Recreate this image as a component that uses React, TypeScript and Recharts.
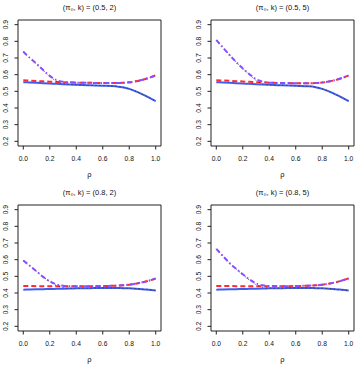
import { LineChart, Line, XAxis, YAxis, ReferenceArea } from 'recharts';

// rho grid shared by all four panels
const RHO = [0, 0.05, 0.1, 0.15, 0.2, 0.25, 0.3, 0.35, 0.4, 0.5, 0.6, 0.7, 0.75, 0.8, 0.85, 0.9, 0.95, 1.0];

const X_TICKS = [0, 0.2, 0.4, 0.6, 0.8, 1.0];
const Y_TICKS = [0.2, 0.3, 0.4, 0.5, 0.6, 0.7, 0.8, 0.9];

const TITLES = ['(π₀, k) = (0.5, 2)', '(π₀, k) = (0.5, 5)', '(π₀, k) = (0.8, 2)', '(π₀, k) = (0.8, 5)'];

// (0.5, 2)
const BLUE_A = [0.555, 0.553, 0.551, 0.549, 0.547, 0.545, 0.543, 0.541, 0.539, 0.536, 0.534, 0.530, 0.525, 0.515, 0.500, 0.482, 0.462, 0.441];
const RED_A = [0.566, 0.564, 0.562, 0.560, 0.558, 0.556, 0.554, 0.553, 0.552, 0.551, 0.550, 0.550, 0.551, 0.554, 0.560, 0.569, 0.581, 0.596];
const PURPLE_A = [0.738, 0.700, 0.665, 0.628, 0.593, 0.568, 0.557, 0.554, 0.552, 0.551, 0.550, 0.550, 0.551, 0.554, 0.560, 0.569, 0.581, 0.596];
const BLACK_A = [0.738, 0.700, 0.664, 0.626, 0.588, 0.562, 0.547, 0.541, 0.539, 0.536, 0.534, 0.530, 0.525, 0.515, 0.500, 0.482, 0.462, 0.441];

// (0.5, 5)
const BLUE_B = [0.555, 0.553, 0.551, 0.549, 0.547, 0.545, 0.543, 0.541, 0.539, 0.536, 0.533, 0.530, 0.525, 0.515, 0.500, 0.482, 0.462, 0.441];
const RED_B = [0.567, 0.565, 0.563, 0.561, 0.559, 0.557, 0.555, 0.553, 0.552, 0.550, 0.549, 0.549, 0.550, 0.553, 0.559, 0.568, 0.580, 0.595];
const PURPLE_B = [0.808, 0.763, 0.718, 0.676, 0.637, 0.603, 0.573, 0.558, 0.552, 0.550, 0.549, 0.549, 0.550, 0.553, 0.559, 0.568, 0.580, 0.595];
const BLACK_B = [0.808, 0.763, 0.718, 0.676, 0.637, 0.600, 0.566, 0.545, 0.539, 0.536, 0.533, 0.530, 0.525, 0.515, 0.500, 0.482, 0.462, 0.441];

// (0.8, 2)
const BLUE_C = [0.420, 0.421, 0.422, 0.423, 0.424, 0.425, 0.426, 0.427, 0.428, 0.429, 0.430, 0.430, 0.429, 0.428, 0.426, 0.423, 0.419, 0.415];
const RED_C = [0.442, 0.442, 0.441, 0.441, 0.441, 0.441, 0.441, 0.441, 0.441, 0.441, 0.442, 0.444, 0.446, 0.450, 0.456, 0.464, 0.474, 0.487];
const PURPLE_C = [0.595, 0.563, 0.530, 0.497, 0.470, 0.452, 0.444, 0.441, 0.441, 0.441, 0.442, 0.444, 0.446, 0.450, 0.456, 0.464, 0.474, 0.487];
const BLACK_C = [0.595, 0.563, 0.530, 0.497, 0.468, 0.445, 0.432, 0.428, 0.428, 0.429, 0.430, 0.430, 0.429, 0.428, 0.426, 0.423, 0.419, 0.415];

// (0.8, 5)
const BLUE_D = [0.420, 0.421, 0.422, 0.423, 0.424, 0.425, 0.426, 0.427, 0.428, 0.429, 0.430, 0.430, 0.429, 0.428, 0.426, 0.423, 0.419, 0.415];
const RED_D = [0.442, 0.442, 0.442, 0.441, 0.441, 0.441, 0.441, 0.441, 0.441, 0.441, 0.442, 0.444, 0.446, 0.450, 0.456, 0.464, 0.475, 0.488];
const PURPLE_D = [0.665, 0.622, 0.580, 0.545, 0.512, 0.482, 0.458, 0.446, 0.442, 0.441, 0.442, 0.444, 0.446, 0.450, 0.456, 0.464, 0.475, 0.488];
const BLACK_D = [0.665, 0.622, 0.580, 0.545, 0.510, 0.478, 0.450, 0.435, 0.429, 0.429, 0.430, 0.430, 0.429, 0.428, 0.426, 0.423, 0.419, 0.415];

const SERIES = [
  [BLUE_A, RED_A, PURPLE_A, BLACK_A],
  [BLUE_B, RED_B, PURPLE_B, BLACK_B],
  [BLUE_C, RED_C, PURPLE_C, BLACK_C],
  [BLUE_D, RED_D, PURPLE_D, BLACK_D],
];

const POSITIONS = [
  { left: 0, top: 0 },
  { left: 193, top: 0 },
  { left: 0, top: 185 },
  { left: 193, top: 185 },
];

const FONT = '"Liberation Sans", Arial, sans-serif';

const XTick = ({ x, y, payload }: any) => (
  <text x={x} y={y + 9} textAnchor="middle" fontSize={6.7} fontFamily={FONT} fill="#111">
    {payload.value.toFixed(1)}
  </text>
);

const YTick = ({ x, y, payload }: any) => (
  <text
    x={x - 4.5}
    y={y}
    textAnchor="middle"
    fontSize={6.7}
    fontFamily={FONT}
    fill="#111"
    transform={`rotate(-90 ${x - 4.5} ${y})`}
  >
    {payload.value.toFixed(1)}
  </text>
);

function Panel({ idx }: { idx: number }) {
  const [blue, red, purple, black] = SERIES[idx];
  const data = RHO.map((r, i) => ({ rho: r, blue: blue[i], red: red[i], purple: purple[i], black: black[i] }));
  const pos = POSITIONS[idx];

  return (
    <div style={{ position: 'absolute', left: pos.left, top: pos.top, width: 163, height: 184 }}>
      <div
        style={{
          position: 'absolute', left: 18, top: 3, width: 143, textAlign: 'center',
          fontSize: 7.5, lineHeight: '9px', fontFamily: FONT, color: '#111',
        }}
      >
        {TITLES[idx]}
      </div>
      <LineChart width={163} height={184} data={data} margin={{ top: 20, right: 2, bottom: 8, left: 0 }}>
        <XAxis
          dataKey="rho"
          type="number"
          domain={[-0.04, 1.04]}
          ticks={X_TICKS}
          interval={0}
          axisLine={false}
          tickSize={3.5}
          tickLine={{ stroke: '#222' }}
          tick={<XTick />}
          height={30}
          allowDataOverflow
        />
        <YAxis
          type="number"
          domain={[0.172, 0.928]}
          ticks={Y_TICKS}
          interval={0}
          axisLine={false}
          tickSize={3.5}
          tickLine={{ stroke: '#222' }}
          tick={<YTick />}
          width={18}
          allowDataOverflow
        />
        <ReferenceArea x1={-0.04} x2={1.04} y1={0.172} y2={0.928} fill="none" stroke="#222" strokeWidth={1} ifOverflow="visible" />
        <Line type="monotone" dataKey="blue" stroke="#3d5cf2" strokeWidth={2} dot={false} isAnimationActive={false} />
        <Line type="monotone" dataKey="red" stroke="#ff2a2a" strokeWidth={2} strokeDasharray="5 3" dot={false} isAnimationActive={false} />
        <Line type="monotone" dataKey="black" stroke="#333" strokeWidth={1} strokeDasharray="1 3" dot={false} isAnimationActive={false} />
        <Line type="monotone" dataKey="purple" stroke="#8a4dff" strokeWidth={2} strokeDasharray="5 2.5 1.5 2.5" dot={false} isAnimationActive={false} />
      </LineChart>
      <div
        style={{
          position: 'absolute', left: 18, top: 170, width: 143, textAlign: 'center',
          fontSize: 7.5, lineHeight: '10px', fontFamily: FONT, color: '#111',
        }}
      >
        ρ
      </div>
    </div>
  );
}

export default function App() {
  return (
    <div style={{ position: 'absolute', left: 0, top: 0, width: 356, height: 367, overflow: 'hidden', background: '#fff' }}>
      {[0, 1, 2, 3].map((i) => (
        <Panel key={i} idx={i} />
      ))}
    </div>
  );
}
